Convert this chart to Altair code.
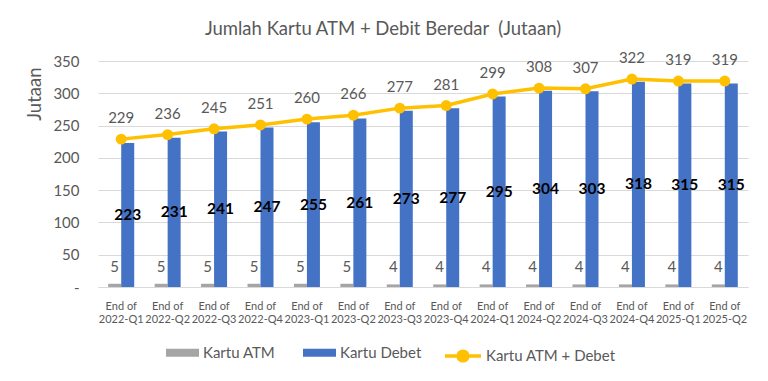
import altair as alt
import pandas as pd

quarters = ["2022-Q1", "2022-Q2", "2022-Q3", "2022-Q4", "2023-Q1", "2023-Q2", "2023-Q3",
            "2023-Q4", "2024-Q1", "2024-Q2", "2024-Q3", "2024-Q4", "2025-Q1", "2025-Q2"]
kartu_atm = [5, 5, 5, 5, 5, 5, 4, 4, 4, 4, 4, 4, 4, 4]
kartu_debet = [223, 231, 241, 247, 255, 261, 273, 277, 295, 304, 303, 318, 315, 315]
kartu_total = [229, 236, 245, 251, 260, 266, 277, 281, 299, 308, 307, 322, 319, 319]

series_bars = ["Kartu ATM", "Kartu Debet"]
series_line = "Kartu ATM + Debet"
cats = ["End of " + q for q in quarters]

bar_rows = []
for c, a, d in zip(cats, kartu_atm, kartu_debet):
    bar_rows.append({"cat": c, "series": "Kartu ATM", "value": a})
    bar_rows.append({"cat": c, "series": "Kartu Debet", "value": d})
bars_df = pd.DataFrame(bar_rows)
line_df = pd.DataFrame({"cat": cats, "series": series_line, "value": kartu_total})

GRAY_TXT = "#595959"
FONT = "Lato"

x_axis = alt.Axis(title=None, labelExpr="['End of', substring(datum.label, 7)]",
                  labelAngle=0, labelFontSize=11, labelColor=GRAY_TXT,
                  labelLineHeight=13.5, labelPadding=13, ticks=False, labelOverlap=False,
                  domainColor="#D9D9D9", domainWidth=1, grid=False, labelFont=FONT)
x_scale = alt.Scale(paddingInner=0.44, paddingOuter=0.22)
y_scale = alt.Scale(domain=[0, 350], nice=False)
y_axis = alt.Axis(title="Jutaan", values=[0, 50, 100, 150, 200, 250, 300, 350],
                  labelExpr="datum.value == 0 ? '-' : datum.label", labelOverlap=False,
                  labelFontSize=15, labelColor=GRAY_TXT, labelPadding=19, labelFont=FONT,
                  ticks=False, domain=False, gridColor="#D9D9D9", gridWidth=1,
                  titleFontSize=18.5, titleColor=GRAY_TXT, titleFontWeight="normal",
                  titleFont=FONT, titleAngle=270, titleAnchor="end", titlePadding=8,
                  titleAlign="right", titleBaseline="bottom", titleY=6)


def X():
    return alt.X("cat:N", sort=cats, scale=x_scale, axis=x_axis)


def Y(field="value"):
    return alt.Y(f"{field}:Q", scale=y_scale, axis=y_axis)


xoff = alt.XOffset("series:N", sort=series_bars,
                   scale=alt.Scale(domain=series_bars, paddingInner=0, paddingOuter=0))

rect_path = "M-1,-0.24L1,-0.24L1,0.24L-1,0.24Z"
line_path = "M-1,0L1,0M0.27,0A0.27,0.27,0,1,1,-0.27,0A0.27,0.27,0,1,1,0.27,0Z"

bars = alt.Chart(bars_df).mark_bar().encode(
    x=X(), y=Y(), xOffset=xoff,
    color=alt.Color("series:N", sort=series_bars,
                    scale=alt.Scale(domain=series_bars, range=["#A5A5A5", "#4472C4"]),
                    legend=alt.Legend(title=None, orient="none", direction="horizontal",
                                      legendX=68, legendY=275, symbolType=rect_path,
                                      symbolSize=1089, symbolStrokeWidth=0,
                                      labelFontSize=15, labelColor=GRAY_TXT,
                                      labelOffset=4, columnPadding=27, labelFont=FONT)),
)

atm_labels = alt.Chart(bars_df).transform_filter(
    alt.datum.series == "Kartu ATM"
).mark_text(fontSize=15, color=GRAY_TXT, baseline="middle", dy=-17, font=FONT).encode(
    x=X(), y=Y(), xOffset=xoff, text=alt.Text("value:Q"),
)

debet_labels = alt.Chart(bars_df).transform_filter(
    alt.datum.series == "Kartu Debet"
).transform_calculate(half="datum.value / 2").mark_text(
    fontSize=15.5, fontWeight="bold", color="#000000", baseline="middle", font=FONT
).encode(
    x=X(), y=Y("half"), xOffset=xoff, text=alt.Text("value:Q"),
)

line = alt.Chart(line_df).mark_line(strokeWidth=3.5).encode(
    x=X(), y=Y(),
    stroke=alt.Stroke("series:N", scale=alt.Scale(domain=[series_line], range=["#FFC000"]),
                      legend=alt.Legend(title=None, orient="none", legendX=345, legendY=275,
                                        symbolType=line_path, symbolSize=1300,
                                        symbolStrokeWidth=3.5, symbolFillColor="#FFC000",
                                        labelFontSize=15, labelColor=GRAY_TXT,
                                        labelOffset=3, labelFont=FONT)),
)
points = alt.Chart(line_df).mark_circle(size=120, color="#FFC000", opacity=1).encode(
    x=X(), y=Y(),
)
total_labels = alt.Chart(line_df).mark_text(
    fontSize=15, color=GRAY_TXT, baseline="middle", dy=-21, font=FONT
).encode(
    x=X(), y=Y(), text=alt.Text("value:Q"),
)

chart = alt.layer(bars, line, points, atm_labels, debet_labels, total_labels).properties(
    width=650, height=226,
    autosize=alt.AutoSizeParams(type="none"),
    padding={"left": 90, "top": 53, "right": 10, "bottom": 84},
    title=alt.TitleParams("Jumlah Kartu ATM + Debit Beredar\u00a0 (Jutaan)", frame="group",
                          anchor="middle", dx=-40, offset=13, fontSize=18.5,
                          fontWeight="normal", color=GRAY_TXT, font=FONT),
).configure(font=FONT).configure_view(stroke=None)

chart.save("out.html", embed_options={"renderer": "svg", "actions": False})
